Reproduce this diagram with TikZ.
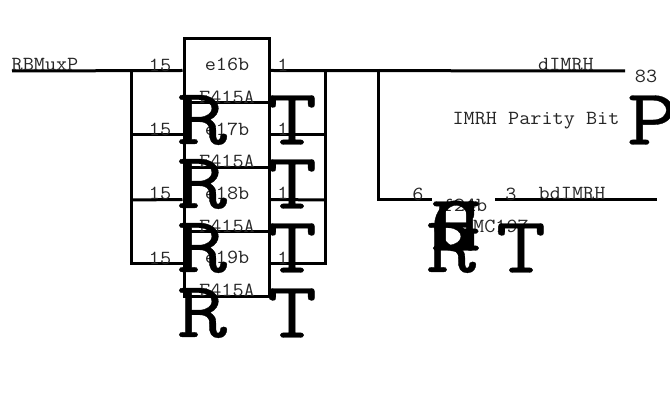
\documentclass[tikz,border=0pt]{standalone}
\usepackage{fontspec}
\newfontfamily\bigmono[FakeBold=0.4]{Latin Modern Mono}
\tikzset{
  wire/.style={line width=3pt},
  chipbox/.style={draw,line width=3pt,minimum width=85pt,minimum height=64.5pt,inner sep=0pt},
  small/.style={font=\ttfamily\fontsize{20}{20}\selectfont,xscale=1.08,transform shape,text=black!85,inner sep=0pt},
  big/.style={font=\bigmono\fontsize{80}{80}\selectfont,xscale=1.22,transform shape,inner sep=0pt}
}
\begin{document}
\begin{tikzpicture}[x=1pt,y=-1pt]
  \useasboundingbox (0,0) rectangle (670,411);
  % chips
  \node[chipbox] (chipA) at (226.5,70.5) {};
  \node[chipbox] (chipB) at (226.5,135) {};
  \node[chipbox] (chipC) at (226.5,199.5) {};
  \node[chipbox] (chipD) at (226.5,264) {};
  \foreach \n/\y/\t in {A/64/e16b,B/129/e17b,C/193/e18b,D/257/e19b}{
    \node[small] (name\n) at (227,\y) {\t};
  }
  \foreach \n/\y in {A/97,B/161,C/226,D/290}{
    \node[small] (part\n) at (227,\y) {F415A};
  }
  % bus
  \coordinate (inL) at (12,71);
  \coordinate (busLtop) at (131,71);
  \coordinate (busLbot) at (131,264);
  \coordinate (busRtop) at (325,71);
  \coordinate (busRbot) at (325,264);
  \coordinate (outR) at (625,71);
  \coordinate (tapT) at (378,69);
  \coordinate (tapB) at (378,200);
  \coordinate (tapE) at (432,200);
  \coordinate (resS) at (495,200);
  \coordinate (resE) at (657,200);
  \draw[wire] (inL)--(chipA.west);
  \draw[wire] (chipA.east)--(outR);
  \draw[wire] (busLtop)--(busLbot)--(chipD.west);
  \draw[wire] (busRtop)--(busRbot)--(chipD.east);
  \draw[wire] (131,135)--(chipB.west);
  \draw[wire] (131,200)--(chipC.west);
  \draw[wire] (chipB.east)--(325,135);
  \draw[wire] (chipC.east)--(325,200);
  \draw[wire] (tapT)--(tapB)--(tapE);
  \draw[wire] (resS)--(resE);
  % pins
  \foreach \n/\y in {A/65,B/129,C/193,D/258}{
    \node[small] (pinL\n) at (160,\y) {15};
    \node[small] (pinR\n) at (283,\y) {1};
  }
  \node[small] (inName) at (45,65) {RBMuxP};
  \node[small] (outName) at (566,65) {dIMRH};
  \node[small] (outNum) at (646,76) {83};
  \node[small] (parity) at (536,121) {IMRH Parity Bit};
  \node[small] (pinSix) at (418,194) {6};
  \node[small] (pinThree) at (511,194) {3};
  \node[small] (resName) at (572,194) {bdIMRH};
  \node[small] (resChip) at (465,205) {f24b};
  \node[small] (resPart) at (501,226) {MC197};
  % big letters
  \foreach \n/\y in {A/120,B/184,C/248,D/313}{
    \node[big] (bigR\n) at (202,\y) {R};
    \node[big] (bigT\n) at (292,\y) {T};
  }
  \node[big] (bigP) at (652,120) {P};
  \node[big] (bigG) at (456,226) {G};
  \node[big] (bigH) at (456,226) {H};
  \node[big] (bigR) at (451,248) {R};
  \node[big] (bigT) at (521,248) {T};
\end{tikzpicture}
\end{document}
